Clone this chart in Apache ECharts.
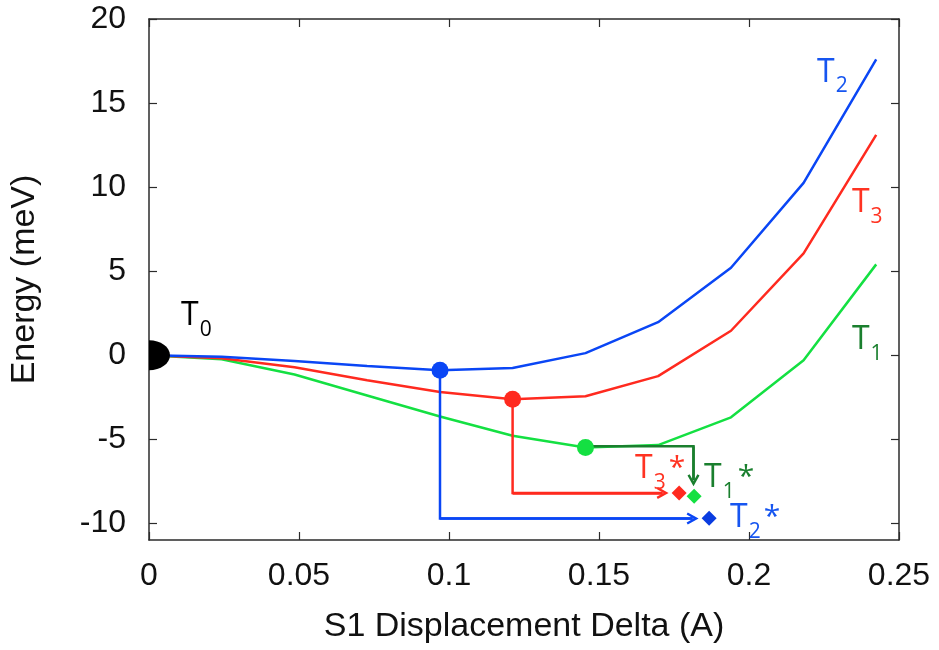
<!DOCTYPE html>
<html><head><meta charset="utf-8">
<script src="https://cdn.jsdelivr.net/npm/echarts@6/dist/echarts.min.js"></script>
<style>html,body{margin:0;padding:0;background:#fff}#c{width:939px;height:650px}</style>
</head><body><div id="c"></div>
<script>
// ---- data ----
const xs = [0, 0.0242, 0.0485, 0.0727, 0.097, 0.1212, 0.1455, 0.1697, 0.194, 0.2182, 0.2424];
const T1 = [0, -0.25, -1.15, -2.4, -3.65, -4.8, -5.5, -5.35, -3.7, -0.3, 5.4];
const T2 = [0, -0.1, -0.35, -0.65, -0.9, -0.77, 0.12, 1.96, 5.2, 10.25, 17.6];
const T3 = [0, -0.18, -0.72, -1.5, -2.2, -2.62, -2.45, -1.25, 1.45, 6.05, 13.1];
const minima = { T1: [0.1455, -5.5], T2: [0.097, -0.9], T3: [0.1212, -2.62] };
const relaxed = { T1: [0.1817, -8.4], T2: [0.1867, -9.7], T3: [0.1767, -8.2] };
const arrowT2 = [[0.097, -0.9], [0.097, -9.72], [0.1812, -9.72]];
const arrowT3 = [[0.1212, -2.62], [0.1212, -8.2], [0.1712, -8.2]];
const arrowT1 = [[0.1455, -5.42], [0.1815, -5.42], [0.1815, -7.45]];
const origin = [0, 0];
const yTicks = [-10, -5, 0, 5, 10, 15, 20];
// annotation anchors (top-left of text)
const notes = [
  { at: [0.0107, 3.27], sub: '0', star: false, color: '#000000' },
  { at: [0.2227, 17.74], sub: '2', star: false, color: '#1655f0' },
  { at: [0.2343, 10.0], sub: '3', star: false, color: '#ff3322' },
  { at: [0.2343, 1.85], sub: '1', star: false, color: '#1a7f2e' },
  { at: [0.162, -5.83], sub: '3', star: true, color: '#ff3322' },
  { at: [0.185, -6.37], sub: '1', star: true, color: '#1a7f2e' },
  { at: [0.1937, -8.75], sub: '2', star: true, color: '#1655f0' }
];

const BLUE = '#0a46f5', RED = '#ff2a1f', GREEN = '#14e042', DGREEN = '#1a7f2e';
const zip = ys => xs.map((x, i) => [x, ys[i]]);
const chev = 'path://M10,0 L20,14 L16.5,15.5 L10,6.5 L3.5,15.5 L0,14 Z';
const halfDisk = 'path://M0,0 C5.52,0 10,4.48 10,10 C10,15.52 5.52,20 0,20 Z';
const AX = '#2b2b2b';
const FONT = 'Liberation Sans';

function curve(name, ys, color) {
  return { name, type: 'line', data: zip(ys), showSymbol: false, symbol: 'none',
    lineStyle: { color, width: 2.5 }, z: 3, animation: false };
}
function arrow(pts, color) {
  const n = pts.length;
  return [
    { type: 'lines', coordinateSystem: 'cartesian2d', polyline: true,
      data: [{ coords: pts }], symbol: 'none',
      lineStyle: { color, width: 2.5, opacity: 1 }, z: 4, animation: false },
    { type: 'lines', coordinateSystem: 'cartesian2d', polyline: false,
      data: [{ coords: [pts[n - 2], pts[n - 1]] }], symbol: ['none', chev], symbolSize: [13, 12],
      lineStyle: { color, width: 2.5, opacity: 1 }, itemStyle: { color }, z: 4, animation: false }
  ];
}
function point(p, color, symbol, size) {
  return { type: 'scatter', data: [p], symbol, symbolSize: size,
    itemStyle: { color, opacity: 1 }, z: 6, animation: false, clip: false };
}

const labelSeries = {
  type: 'scatter', symbolSize: 0, z: 10, animation: false, clip: false,
  itemStyle: { opacity: 1 },
  data: notes.map(n => ({
    value: n.at,
    label: {
      show: true, position: 'inside', align: 'left', verticalAlign: 'top',
      formatter: '{t|T}{s|' + n.sub + '}' + (n.star ? '{a|*}' : ''),
      rich: {
        t: { fontFamily: 'Open Sans', fontSize: 32, color: n.color, lineHeight: 32, verticalAlign: 'top' },
        s: { fontFamily: 'Open Sans', fontSize: 21, color: n.color, lineHeight: 21, verticalAlign: 'top', padding: [19, 0, 0, 1] },
        a: { fontFamily: 'Open Sans', fontSize: 30, color: n.color, lineHeight: 30, verticalAlign: 'top', padding: [0, 0, 0, 3] }
      }
    }
  }))
};

const axisCommon = {
  type: 'value', splitLine: { show: false },
  axisLine: { show: true, onZero: false, lineStyle: { color: AX, width: 1.5 } },
  axisTick: { show: true, inside: true, length: 8, lineStyle: { color: AX, width: 1.2 } }
};

const option = {
  backgroundColor: '#ffffff',
  animation: false,
  grid: { left: 149, right: 40, top: 19, bottom: 110, containLabel: false },
  xAxis: [
    Object.assign({}, axisCommon, {
      min: 0, max: 0.25, interval: 0.05, position: 'bottom',
      name: 'S1 Displacement Delta (A)', nameLocation: 'middle', nameGap: 70,
      nameTextStyle: { fontFamily: FONT, fontSize: 34, color: '#111' },
      axisLabel: { fontFamily: FONT, fontSize: 32, color: '#111', margin: 20,
        formatter: v => String(+v.toFixed(2)) }
    }),
    Object.assign({}, axisCommon, {
      min: 0, max: 0.25, interval: 0.05, position: 'top', axisLabel: { show: false }
    })
  ],
  yAxis: [
    Object.assign({}, axisCommon, {
      min: -11, max: 20, position: 'left',
      name: 'Energy (meV)', nameLocation: 'middle', nameGap: 107,
      nameTextStyle: { fontFamily: FONT, fontSize: 34, color: '#111' },
      axisTick: Object.assign({}, axisCommon.axisTick, { customValues: yTicks }),
      axisLabel: { fontFamily: FONT, fontSize: 32, color: '#111', margin: 23, customValues: yTicks }
    }),
    Object.assign({}, axisCommon, {
      min: -11, max: 20, position: 'right',
      axisTick: Object.assign({}, axisCommon.axisTick, { customValues: yTicks }),
      axisLabel: { show: false, customValues: yTicks }
    })
  ],
  series: [
    curve('T1', T1, GREEN),
    curve('T3', T3, RED),
    curve('T2', T2, BLUE),
    ...arrow(arrowT2, BLUE),
    ...arrow(arrowT3, RED),
    ...arrow(arrowT1, DGREEN),
    point(minima.T2, BLUE, 'circle', 17),
    point(minima.T3, RED, 'circle', 17),
    point(minima.T1, GREEN, 'circle', 17),
    point(relaxed.T3, RED, 'diamond', 15),
    point(relaxed.T1, GREEN, 'diamond', 15),
    point(relaxed.T2, '#0a3ce0', 'diamond', 15),
    { type: 'scatter', data: [origin], symbol: halfDisk,
      symbolSize: [21, 30], symbolKeepAspect: false, symbolOffset: [10.5, 0],
      itemStyle: { color: '#000', opacity: 1 }, z: 7, animation: false, clip: false },
    labelSeries
  ]
};
const chart = echarts.init(document.getElementById('c'), null, { renderer: 'canvas' });
chart.setOption(option);
</script></body></html>
